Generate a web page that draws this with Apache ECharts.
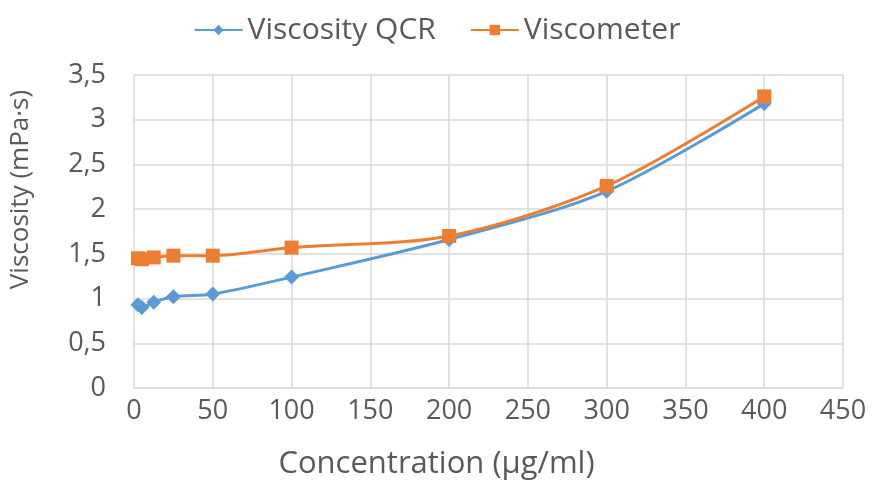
<!DOCTYPE html>
<html>
<head>
<meta charset="utf-8">
<script src="https://cdn.jsdelivr.net/npm/echarts@6/dist/echarts.min.js"></script>
<style>
  html, body { margin: 0; padding: 0; background: #fff; }
  #main { width: 874px; height: 485px; }
</style>
</head>
<body>
<div id="main"></div>
<script>
// concentrations (µg/ml)
var concentration = [2.5, 5, 12.5, 25, 50, 100, 200, 300, 400];
var qcrValues = [0.93, 0.9, 0.96, 1.02, 1.05, 1.24, 1.66, 2.2, 3.18];
var viscometerValues = [1.45, 1.44, 1.46, 1.48, 1.48, 1.57, 1.7, 2.26, 3.26];

function pairs(xs, ys) {
  return xs.map(function (x, i) { return [x, ys[i]]; });
}

var myChart = echarts.init(document.getElementById("main"));
var labelColor = "#595959";
var font = "'Open Sans', Lato, sans-serif";

var option = {
  animation: false,
  textStyle: { fontFamily: font },
  legend: {
    top: 10,
    left: "center",
    itemGap: 34,
    itemWidth: 48,
    itemHeight: 13,
    textStyle: { fontSize: 30, color: labelColor, fontFamily: font },
    data: ["Viscosity QCR", "Viscometer"],
  },
  grid: { left: 131, right: 31, top: 75, bottom: 95 },
  xAxis: {
    type: "value",
    min: 0,
    max: 450,
    interval: 50,
    name: "Concentration (µg/ml)",
    nameLocation: "middle",
    nameGap: 61,
    nameTextStyle: { fontSize: 31, color: labelColor, fontFamily: font, padding: [0, 104, 0, 0] },
    axisLine: { show: true, lineStyle: { color: "#d9d9d9" } },
    axisTick: { show: false },
    axisLabel: { fontSize: 27, color: labelColor, margin: 10 },
    splitLine: { show: true, lineStyle: { color: "#d9d9d9", width: 1.5 } },
  },
  yAxis: {
    type: "value",
    min: 0,
    max: 3.5,
    interval: 0.5,
    name: "Viscosity (mPa·s)",
    nameLocation: "middle",
    nameGap: 100,
    nameTextStyle: { fontSize: 26, color: labelColor, fontFamily: font, padding: [0, 0, 0, 84] },
    axisLine: { show: false },
    axisTick: { show: false },
    axisLabel: {
      fontSize: 27,
      color: labelColor,
      margin: 28,
      formatter: function (v) { return String(v).replace(".", ","); },
    },
    splitLine: { show: true, lineStyle: { color: "#d9d9d9", width: 1.5 } },
  },
  series: [
    {
      name: "Viscosity QCR",
      type: "line",
      data: pairs(concentration, qcrValues),
      smooth: 0.3,
      symbol: "diamond",
      symbolSize: 15,
      lineStyle: { color: "#5B9BD5", width: 3 },
      itemStyle: { color: "#5B9BD5" },
    },
    {
      name: "Viscometer",
      type: "line",
      data: pairs(concentration, viscometerValues),
      smooth: 0.3,
      symbol: "rect",
      symbolSize: 14,
      lineStyle: { color: "#ED7D31", width: 3 },
      itemStyle: { color: "#ED7D31" },
    },
  ],
};

myChart.setOption(option);
</script>
</body>
</html>
